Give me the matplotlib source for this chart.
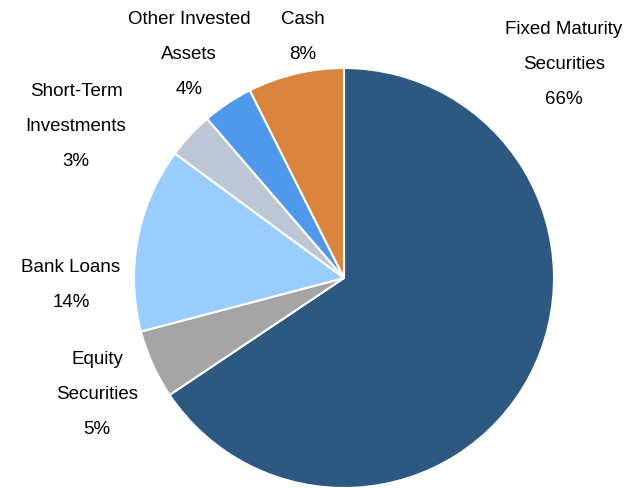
import matplotlib
matplotlib.use("Agg")
import matplotlib.pyplot as plt

# portfolio mix (labels show rounded values)
names = ["Fixed Maturity\nSecurities", "Equity\nSecurities", "Bank Loans",
         "Short-Term\nInvestments", "Other Invested\nAssets", "Cash"]
shares = [65.6, 5.3, 14.2, 3.6, 3.9, 7.4]
pct_labels = ["66%", "5%", "14%", "3%", "4%", "8%"]
colors = ["#2C5882", "#A5A5A5", "#99CCFF", "#BDC6D4", "#5099EA", "#DB843E"]

W, H = 639, 489
fig = plt.figure(figsize=(W / 100, H / 100), dpi=100)
ax = fig.add_axes([0, 0, 1, 1])

ax.pie(shares, colors=colors, startangle=90, counterclock=False,
       center=(344, H - 279), radius=210,
       wedgeprops=dict(edgecolor="white", linewidth=1.5))

# pie() sets its own limits, so set the pixel frame afterwards
ax.set_xlim(0, W)
ax.set_ylim(0, H)
ax.set_aspect("equal")
ax.axis("off")

# label anchor (pixel x, pixel y of top of first line)
label_pos = [(564, 21), (97, 351), (71, 259), (76, 83), (189, 11), (303, 11)]

for name, pct, (px, py) in zip(names, pct_labels, label_pos):
    ax.text(px, H - py, name + "\n" + pct, ha="center", va="top",
            fontsize=13.5, family="Liberation Sans", color="black",
            linespacing=2.37)

fig.savefig("out.png", dpi=100)
